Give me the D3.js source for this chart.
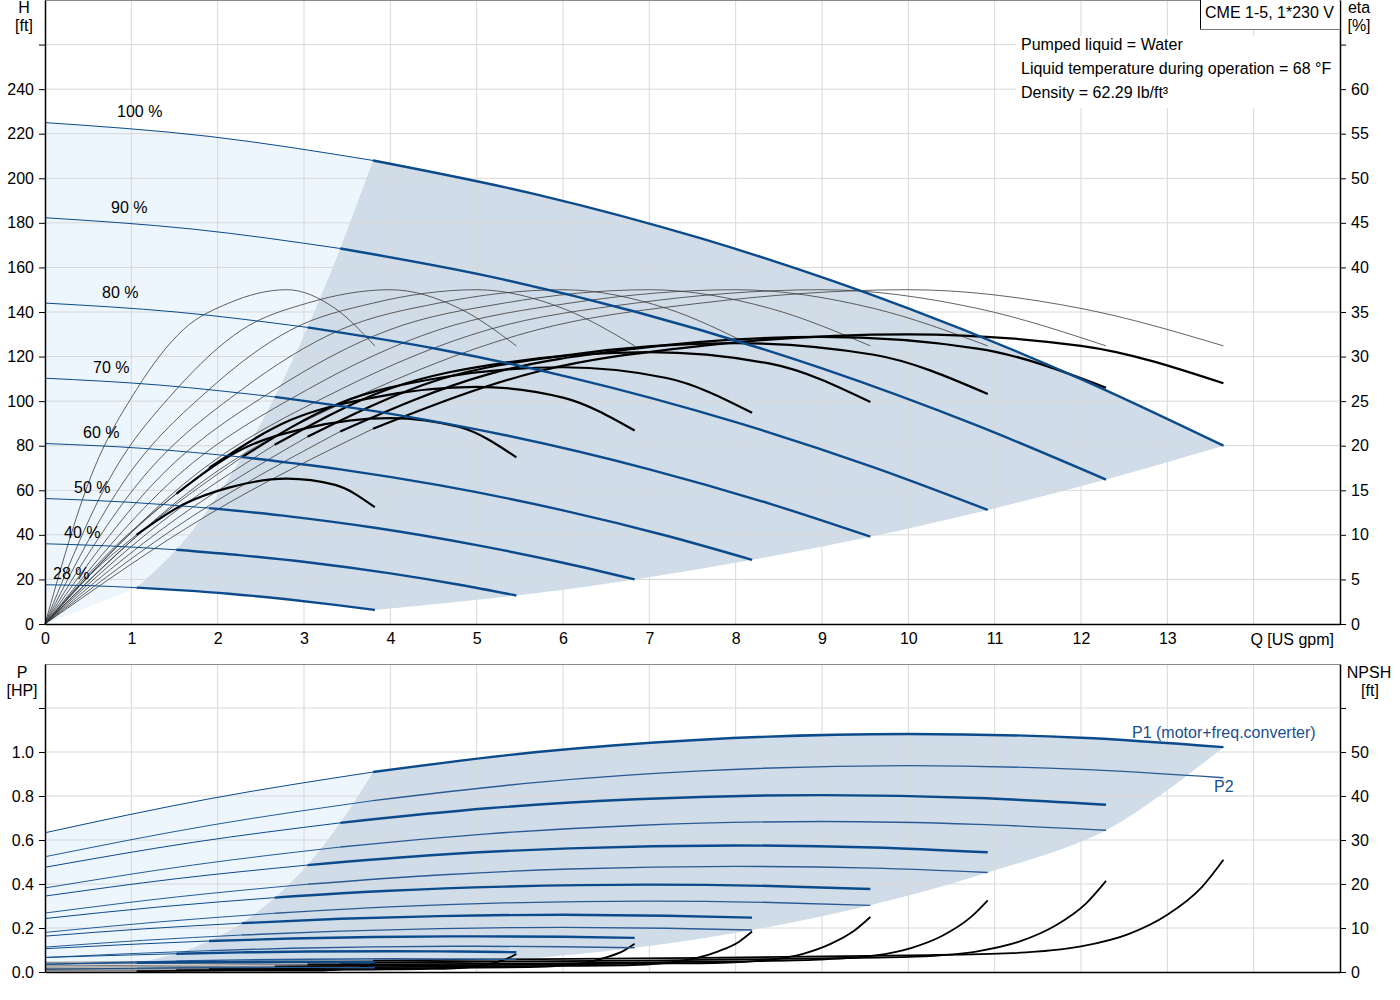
<!DOCTYPE html>
<html>
<head>
<meta charset="utf-8">
<script src="https://cdn.jsdelivr.net/npm/d3@7"></script>
<style>
  body { margin: 0; background: #fff; }
  svg { display: block; font-family: "Liberation Sans", Arial, sans-serif; }
</style>
</head>
<body>
<div id="chart"></div>
<script>
// flow points of each speed curve [US gpm]
var q100 = [0, 1.9, 3.8, 5.7, 7.6, 10, 12, 13.65];
var q90 = [0, 1.71, 3.42, 5.13, 6.84, 9, 10.8, 12.29];
var q80 = [0, 1.52, 3.04, 4.56, 6.08, 8, 9.6, 10.92];
var q70 = [0, 1.33, 2.66, 3.99, 5.32, 7, 8.4, 9.56];
var q60 = [0, 1.14, 2.28, 3.42, 4.56, 6, 7.2, 8.19];
var q50 = [0, 0.95, 1.9, 2.85, 3.8, 5, 6, 6.83];
var q40 = [0, 0.76, 1.52, 2.28, 3.04, 4, 4.8, 5.46];
var q28 = [0, 0.53, 1.06, 1.6, 2.13, 2.8, 3.36, 3.82];

// head [ft]
var h100 = [225, 218.8, 208.0, 192.7, 173.0, 141.6, 109.9, 80.0];
var h90 = [182.3, 177.2, 168.5, 156.1, 140.1, 114.7, 89.0, 64.8];
var h80 = [144.0, 140.0, 133.1, 123.3, 110.7, 90.6, 70.3, 51.2];
var h70 = [110.3, 107.2, 101.9, 94.4, 84.8, 69.4, 53.9, 39.2];
var h60 = [81.0, 78.8, 74.9, 69.4, 62.3, 51.0, 39.6, 28.8];
var h50 = [56.3, 54.7, 52.0, 48.2, 43.3, 35.4, 27.5, 20.0];
var h40 = [36.0, 35.0, 33.3, 30.8, 27.7, 22.7, 17.6, 12.8];
var h28 = [17.6, 17.2, 16.3, 15.1, 13.6, 11.1, 8.6, 6.3];

// total efficiency [%]
var eta100 = [0, 12.3, 21.9, 28.3, 31.2, 32.5, 31.2, 27.0];
var eta90 = [0, 12.1, 21.6, 28.0, 30.9, 32.2, 30.9, 26.5];
var eta80 = [0, 11.8, 21.0, 27.4, 30.2, 31.5, 30.2, 25.8];
var eta70 = [0, 11.3, 20.1, 26.4, 29.3, 30.5, 29.2, 24.9];
var eta60 = [0, 10.5, 18.7, 24.8, 27.6, 28.8, 27.6, 23.7];
var eta50 = [0, 9.8, 17.5, 22.9, 25.4, 26.6, 25.4, 21.7];
var eta40 = [0, 8.2, 14.6, 19.6, 22.0, 23.1, 22.1, 18.7];
var eta28 = [0, 5.6, 10.0, 13.4, 15.3, 16.3, 15.6, 13.1];

// pump (hydraulic) efficiency [%], same shape at every speed
var etaPump = [0, 16.5, 26.3, 33.0, 36.0, 37.5, 35.4, 31.2];

// P1 power [HP]
var p1_100 = [0.633, 0.787, 0.909, 1.000, 1.056, 1.082, 1.065, 1.022];
var p1_90 = [0.476, 0.589, 0.678, 0.744, 0.785, 0.804, 0.791, 0.760];
var p1_80 = [0.345, 0.424, 0.486, 0.533, 0.562, 0.575, 0.566, 0.544];
var p1_70 = [0.243, 0.296, 0.338, 0.369, 0.388, 0.397, 0.391, 0.377];
var p1_60 = [0.163, 0.196, 0.222, 0.242, 0.254, 0.260, 0.256, 0.247];
var p1_50 = [0.106, 0.125, 0.141, 0.152, 0.159, 0.162, 0.160, 0.155];
var p1_40 = [0.066, 0.075, 0.083, 0.089, 0.093, 0.094, 0.093, 0.090];
var p1_28 = [0.036, 0.039, 0.042, 0.044, 0.045, 0.046, 0.045, 0.044];

// P2 power [HP]
var p2_100 = [0.524, 0.666, 0.779, 0.862, 0.914, 0.938, 0.921, 0.883];
var p2_90 = [0.382, 0.486, 0.568, 0.628, 0.666, 0.684, 0.671, 0.644];
var p2_80 = [0.268, 0.341, 0.399, 0.441, 0.468, 0.480, 0.472, 0.452];
var p2_70 = [0.180, 0.228, 0.267, 0.296, 0.314, 0.322, 0.316, 0.303];
var p2_60 = [0.113, 0.144, 0.168, 0.186, 0.197, 0.203, 0.199, 0.191];
var p2_50 = [0.066, 0.083, 0.097, 0.108, 0.114, 0.117, 0.115, 0.110];
var p2_40 = [0.034, 0.043, 0.050, 0.055, 0.058, 0.060, 0.059, 0.057];
var p2_28 = [0.012, 0.015, 0.017, 0.019, 0.020, 0.021, 0.020, 0.019];

// NPSH flow points and values [ft]
var nq100 = [0, 3.8, 7.6, 10, 11.2, 12, 12.55, 13, 13.4, 13.65];
var nq90 = [0, 3.42, 6.84, 9, 10.08, 10.8, 11.3, 11.7, 12.06, 12.29];
var nq80 = [0, 3.04, 6.08, 8, 8.96, 9.6, 10.04, 10.4, 10.72, 10.92];
var nq70 = [0, 2.66, 5.32, 7, 7.84, 8.4, 8.79, 9.1, 9.38, 9.56];
var nq60 = [0, 2.28, 4.56, 6, 6.72, 7.2, 7.53, 7.8, 8.04, 8.19];
var nq50 = [0, 1.9, 3.8, 5, 5.6, 6, 6.28, 6.5, 6.7, 6.83];
var nq40 = [0, 1.52, 3.04, 4, 4.48, 4.8, 5.02, 5.2, 5.36, 5.46];
var nq28 = [0, 1.06, 2.13, 2.8, 3.14, 3.36, 3.51, 3.64, 3.75, 3.82];
var npsh100 = [2.2, 2.6, 3.2, 3.8, 4.3, 5.8, 8.6, 13.0, 19.3, 25.5];
var npsh90 = [1.8, 2.1, 2.6, 3.1, 3.5, 4.7, 7.0, 10.5, 15.6, 20.7];
var npsh80 = [1.4, 1.7, 2.0, 2.4, 2.8, 3.7, 5.5, 8.3, 12.4, 16.3];
var npsh70 = [1.1, 1.3, 1.6, 1.9, 2.1, 2.8, 4.2, 6.4, 9.5, 12.5];
var npsh60 = [0.8, 0.9, 1.2, 1.4, 1.5, 2.1, 3.1, 4.7, 6.9, 9.2];
var npsh50 = [0.6, 0.7, 0.8, 1.0, 1.1, 1.5, 2.2, 3.3, 4.8, 6.4];
var npsh40 = [0.4, 0.4, 0.5, 0.6, 0.7, 0.9, 1.4, 2.1, 3.1, 4.1];
var npsh28 = [0.2, 0.2, 0.3, 0.3, 0.3, 0.5, 0.7, 1.0, 1.5, 2.0];

var speedLabels = ["100 %", "90 %", "80 %", "70 %", "60 %", "50 %", "40 %", "28 %"];
var qTicks = [0, 1, 2, 3, 4, 5, 6, 7, 8, 9, 10, 11, 12, 13];
var hTicks = [0, 20, 40, 60, 80, 100, 120, 140, 160, 180, 200, 220, 240, 260];
var etaTicks = [0, 5, 10, 15, 20, 25, 30, 35, 40, 45, 50, 55, 60, 65];
var pTicks = [0, 0.2, 0.4, 0.6, 0.8, 1.0, 1.2];
var npshTicks = [0, 10, 20, 30, 40, 50, 60];

// table of speeds built from the arrays above
var speeds = [
  { label: speedLabels[0], q: q100, h: h100, eta: eta100, p1: p1_100, p2: p2_100, nq: nq100, npsh: npsh100 },
  { label: speedLabels[1], q: q90, h: h90, eta: eta90, p1: p1_90, p2: p2_90, nq: nq90, npsh: npsh90 },
  { label: speedLabels[2], q: q80, h: h80, eta: eta80, p1: p1_80, p2: p2_80, nq: nq80, npsh: npsh80 },
  { label: speedLabels[3], q: q70, h: h70, eta: eta70, p1: p1_70, p2: p2_70, nq: nq70, npsh: npsh70 },
  { label: speedLabels[4], q: q60, h: h60, eta: eta60, p1: p1_60, p2: p2_60, nq: nq60, npsh: npsh60 },
  { label: speedLabels[5], q: q50, h: h50, eta: eta50, p1: p1_50, p2: p2_50, nq: nq50, npsh: npsh50 },
  { label: speedLabels[6], q: q40, h: h40, eta: eta40, p1: p1_40, p2: p2_40, nq: nq40, npsh: npsh40 },
  { label: speedLabels[7], q: q28, h: h28, eta: eta28, p1: p1_28, p2: p2_28, nq: nq28, npsh: npsh28 }
];

var W = 1400, H = 1000;
var blue = "#0b4a8b", gridColor = "#d8d8d8";
var lightFill = "#eef6fd", darkFill = "#d0dce8";
var fontSize = 16;

var svg = d3.select("#chart").append("svg")
    .attr("width", W)
    .attr("height", H);

// scales
var x = d3.scaleLinear().domain([0, 15]).range([45, 1340]);
var yH = d3.scaleLinear().domain([0, 280]).range([624, 0]);
var yEta = d3.scaleLinear().domain([0, 70]).range([624, 0]);
var yP = d3.scaleLinear().domain([0, 1.4]).range([972, 664]);
var yN = d3.scaleLinear().domain([0, 70]).range([972, 664]);

function pts(q, v) { return d3.zip(q, v); }

// outlines may run backwards in x, so they use catmull-rom
function outlinePath(p, ys) {
  return d3.line()
    .x(function (d) { return x(d[0]); })
    .y(function (d) { return ys(d[1]); })
    .curve(d3.curveCatmullRom.alpha(0.5))(p);
}
function curvePath(p, ys) {
  return d3.line()
    .x(function (d) { return x(d[0]); })
    .y(function (d) { return ys(d[1]); })
    .curve(d3.curveMonotoneX)(p);
}
// join several curved pieces into one closed outline
function outline(pieces, ys) {
  var s = "";
  pieces.forEach(function (p, i) {
    var d = outlinePath(p, ys);
    s += (i === 0) ? d : d.replace(/^M/, "L");
  });
  return s + "Z";
}

function drawCurve(p, ys, split, thin, thick) {
  svg.append("path")
    .attr("d", curvePath(p.slice(0, split + 1), ys))
    .attr("fill", "none")
    .attr("stroke", thin.color)
    .attr("stroke-width", thin.width);
  svg.append("path")
    .attr("d", curvePath(p.slice(split), ys))
    .attr("fill", "none")
    .attr("stroke", thick.color)
    .attr("stroke-width", thick.width);
}

// ---------- top panel areas ----------
var top100 = speeds[0], low = speeds[7];
var leftH = speeds.slice().reverse().map(function (s) { return [s.q[2], s.h[2]]; });
var rightH = speeds.map(function (s) { return [s.q[7], s.h[7]]; });

svg.append("path")
  .attr("d", outline([
    [[0, 0], [0, top100.h[0]]],
    pts(top100.q, top100.h).slice(0, 3),
    leftH.slice().reverse(),
    [[low.q[2], low.h[2]], [0, 0]]
  ], yH))
  .attr("fill", lightFill);

svg.append("path")
  .attr("d", outline([
    leftH,
    pts(top100.q, top100.h).slice(2),
    rightH,
    pts(low.q, low.h).slice(2).reverse()
  ], yH))
  .attr("fill", darkFill);

// ---------- bottom panel areas ----------
var leftP = speeds.slice().reverse().map(function (s) { return [s.q[2], s.p1[2]]; });
var rightP = [[top100.q[7], top100.p1[7]]].concat(
  speeds.slice(1).map(function (s) { return [s.q[7], s.p2[7]]; }));

svg.append("path")
  .attr("d", outline([
    [[0, low.p1[0]], [0, top100.p1[0]]],
    pts(top100.q, top100.p1).slice(0, 3),
    leftP.slice().reverse(),
    pts(low.q, low.p1).slice(0, 3).reverse()
  ], yP))
  .attr("fill", lightFill);

svg.append("path")
  .attr("d", outline([
    leftP,
    pts(top100.q, top100.p1).slice(2),
    rightP,
    [[low.q[7], low.p2[7]], [low.q[2], low.p1[2]]]
  ], yP))
  .attr("fill", darkFill);

// ---------- grid ----------
var grid = svg.append("g").attr("stroke", gridColor).attr("stroke-width", 1);
d3.range(1, 15).forEach(function (q) {
  grid.append("line").attr("x1", x(q)).attr("x2", x(q)).attr("y1", 0).attr("y2", 624);
  grid.append("line").attr("x1", x(q)).attr("x2", x(q)).attr("y1", 664).attr("y2", 972);
});
hTicks.slice(1).forEach(function (v) {
  grid.append("line").attr("x1", 45).attr("x2", 1340).attr("y1", yH(v)).attr("y2", yH(v));
});
pTicks.slice(1).forEach(function (v) {
  grid.append("line").attr("x1", 45).attr("x2", 1340).attr("y1", yP(v)).attr("y2", yP(v));
});
// panel top borders
svg.append("line").attr("x1", 45).attr("x2", 1340).attr("y1", 0.5).attr("y2", 0.5)
  .attr("stroke", "#8a8a8a").attr("stroke-width", 1);
svg.append("line").attr("x1", 45).attr("x2", 1340).attr("y1", 664.5).attr("y2", 664.5)
  .attr("stroke", "#8a8a8a").attr("stroke-width", 1);

// ---------- top panel curves ----------
var thinBlack = { color: "#3a3a3a", width: 0.8 };
speeds.forEach(function (s) {
  // pump efficiency, thin all along
  svg.append("path")
    .attr("d", curvePath(pts(s.q, etaPump), yEta))
    .attr("fill", "none")
    .attr("stroke", thinBlack.color)
    .attr("stroke-width", thinBlack.width);
});
speeds.forEach(function (s) {
  drawCurve(pts(s.q, s.eta), yEta, 2, thinBlack, { color: "#000", width: 2.2 });
});
speeds.forEach(function (s) {
  drawCurve(pts(s.q, s.h), yH, 2, { color: blue, width: 1 }, { color: blue, width: 2.4 });
});

// ---------- bottom panel curves ----------
speeds.forEach(function (s) {
  drawCurve(pts(s.nq, s.npsh), yN, 1, { color: "#555", width: 0.8 }, { color: "#000", width: 1.8 });
});
speeds.forEach(function (s) {
  drawCurve(pts(s.q, s.p2), yP, 2, { color: blue, width: 0.9 }, { color: "#2a5a94", width: 1.4 });
  drawCurve(pts(s.q, s.p1), yP, 2, { color: blue, width: 1 }, { color: blue, width: 2.4 });
});

// ---------- axes ----------
function styleAxis(g) {
  g.attr("font-size", fontSize).attr("font-family", "Liberation Sans, Arial, sans-serif");
  g.select(".domain").attr("stroke", "#000").attr("stroke-width", 1.5);
  g.selectAll(".tick line").attr("stroke", "#000");
  g.selectAll(".tick text").attr("fill", "#000");
}

svg.append("g").attr("transform", "translate(45,0)")
  .call(d3.axisLeft(yH).tickValues(hTicks).tickSize(6).tickSizeOuter(0).tickPadding(5)
    .tickFormat(function (d) { return d === 260 ? "" : d; }))
  .call(styleAxis);
svg.append("g").attr("transform", "translate(1340,0)")
  .call(d3.axisRight(yEta).tickValues(etaTicks).tickSize(6).tickSizeOuter(0).tickPadding(5)
    .tickFormat(function (d) { return d === 65 ? "" : d; }))
  .call(styleAxis);
svg.append("g").attr("transform", "translate(0,624)")
  .call(d3.axisBottom(x).tickValues(qTicks).tickSize(0).tickSizeOuter(0).tickPadding(9))
  .call(styleAxis);

svg.append("g").attr("transform", "translate(45,0)")
  .call(d3.axisLeft(yP).tickValues(pTicks).tickSize(6).tickSizeOuter(0).tickPadding(5)
    .tickFormat(function (d) { return d > 1.1 ? "" : d3.format(".1f")(d); }))
  .call(styleAxis);
svg.append("g").attr("transform", "translate(1340,0)")
  .call(d3.axisRight(yN).tickValues(npshTicks).tickSize(6).tickSizeOuter(0).tickPadding(5)
    .tickFormat(function (d) { return d === 60 ? "" : d; }))
  .call(styleAxis);
svg.append("g").attr("transform", "translate(0,972)")
  .call(d3.axisBottom(x).tickValues([]).tickSizeOuter(0))
  .call(styleAxis);

// ---------- texts ----------
function label(tx, ty, str, anchor, color) {
  svg.append("text")
    .attr("x", tx).attr("y", ty)
    .attr("font-size", fontSize)
    .attr("text-anchor", anchor || "start")
    .attr("fill", color || "#000")
    .text(str);
}
label(24, 13, "H", "middle");
label(24, 31, "[ft]", "middle");
label(1359, 13, "eta", "middle");
label(1359, 31, "[%]", "middle");
label(22, 678, "P", "middle");
label(22, 696, "[HP]", "middle");
label(1369, 678, "NPSH", "middle");
label(1370, 696, "[ft]", "middle");
label(1334, 645, "Q [US gpm]", "end");

var speedLabelPos = [[117, 117], [111, 213], [102, 298], [93, 373], [83, 438], [74, 493], [64, 538], [53, 579]];
speeds.forEach(function (s, i) {
  label(speedLabelPos[i][0], speedLabelPos[i][1], s.label);
});

label(1132, 738, "P1 (motor+freq.converter)", "start", "#1b4f8f");
label(1214, 792, "P2", "start", "#1b4f8f");

// info box
svg.append("rect").attr("x", 1016).attr("y", 36).attr("width", 323).attr("height", 72).attr("fill", "#fff");
label(1021, 50, "Pumped liquid = Water");
label(1021, 74, "Liquid temperature during operation = 68 °F");
label(1021, 98, "Density = 62.29 lb/ft³");

// title box
svg.append("rect").attr("x", 1200.5).attr("y", -1).attr("width", 139).attr("height", 30.5)
  .attr("fill", "#fff").attr("stroke", "none");
svg.append("line").attr("x1", 1200.5).attr("x2", 1200.5).attr("y1", 0).attr("y2", 30)
  .attr("stroke", "#000").attr("stroke-width", 1);
svg.append("line").attr("x1", 1200).attr("x2", 1340).attr("y1", 29.5).attr("y2", 29.5)
  .attr("stroke", "#777").attr("stroke-width", 1.2);
label(1205, 18, "CME 1-5, 1*230 V");
</script>
</body>
</html>
